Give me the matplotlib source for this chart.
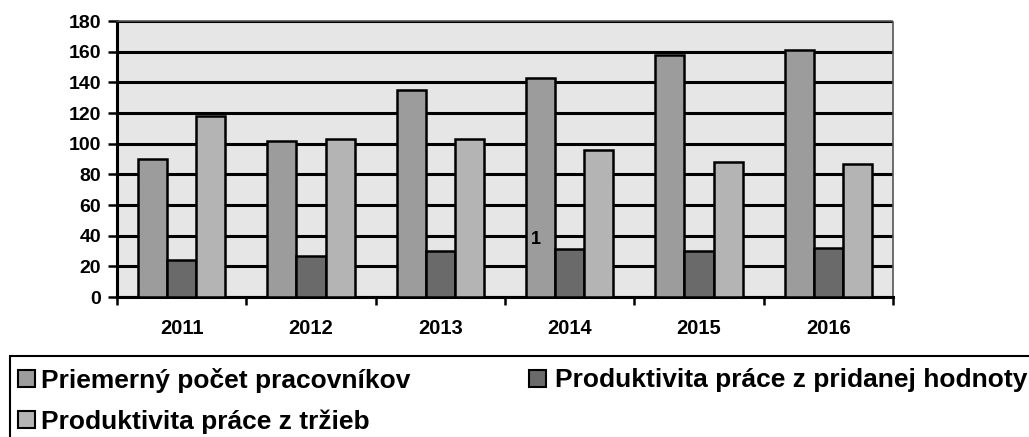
import matplotlib
matplotlib.use("Agg")
import matplotlib.pyplot as plt
import numpy as np
from matplotlib.patches import Rectangle

years = ["2011", "2012", "2013", "2014", "2015", "2016"]
priemerny = [90, 102, 135, 143, 158, 161]
pridana = [24, 27, 30, 31, 30, 32]
trzby = [118, 103, 103, 96, 88, 87]
series_names = ["Priemerný počet pracovníkov",
                "Produktivita práce z pridanej hodnoty",
                "Produktivita práce z tržieb"]
y_ticks = list(range(0, 181, 20))

plt.rcParams['font.family'] = ['Liberation Sans', 'DejaVu Sans']
plt.rcParams['font.weight'] = 'bold'

W, H = 1029, 437
fig = plt.figure(figsize=(W/100, H/100), dpi=100)
ax = fig.add_axes([117/W, 1-297/H, (893-117)/W, (297-21)/H])
ax.set_facecolor('#e6e6e6')

x = np.arange(len(years))
w = 0.225
cols = ['#9c9c9c', '#6a6a6a', '#b4b4b4']
for i, (vals, c) in enumerate(zip([priemerny, pridana, trzby], cols)):
    ax.bar(x + (i-1)*w, vals, width=w, color=c, edgecolor='black', linewidth=1.8,
           zorder=3, label=series_names[i])

ax.set_ylim(0, 180)
ax.set_xlim(-0.5, len(years)-0.5)
ax.set_yticks(y_ticks)
ax.set_yticklabels([str(v) for v in y_ticks], fontsize=14, fontweight='bold')
ax.yaxis.grid(True, color='black', linewidth=2.2, zorder=1)
ax.set_axisbelow(True)
ax.set_xticks(x)
ax.set_xticklabels(years, fontsize=14.5, fontweight='bold')
ax.tick_params(axis='x', length=0, pad=16)
ax.set_xticks(np.arange(-0.5, len(years), 1), minor=True)
ax.tick_params(axis='x', which='minor', length=6, width=1.8, direction='out')
ax.tick_params(axis='y', length=6.5, width=1.8, direction='out', pad=5)
for s in ['left', 'bottom']:
    ax.spines[s].set_linewidth(2.2)
for s in ['top', 'right']:
    ax.spines[s].set_linewidth(1.2)
    ax.spines[s].set_color('#555555')
    ax.spines[s].set_linestyle((0, (1, 1)))

ax.text(2.74, 37.8, "1", fontsize=13, fontweight='bold', ha='center', va='center', zorder=5)

# legend (frame + entries placed in figure pixels)
def fx(px):
    return px / W

def fy(py):
    return 1 - py / H

fig.patches.append(Rectangle((fx(10), fy(438)), 1.0, (438-356)/H, transform=fig.transFigure,
                             facecolor='none', edgecolor='black', linewidth=1.5))
entries = [(series_names[0], cols[0], 18, 41, 378),
           (series_names[2], cols[2], 18, 41, 419),
           (series_names[1], cols[1], 529, 555, 378)]
for lab, c, mx, tx, cy in entries:
    fig.patches.append(Rectangle((fx(mx), fy(cy+8.5)), 17/W, 17/H, transform=fig.transFigure,
                                 facecolor=c, edgecolor='black', linewidth=1.5))
    fig.text(fx(tx), fy(cy), lab, fontsize=19, fontweight='bold', ha='left', va='center_baseline')

fig.savefig('out.png', dpi=100)
